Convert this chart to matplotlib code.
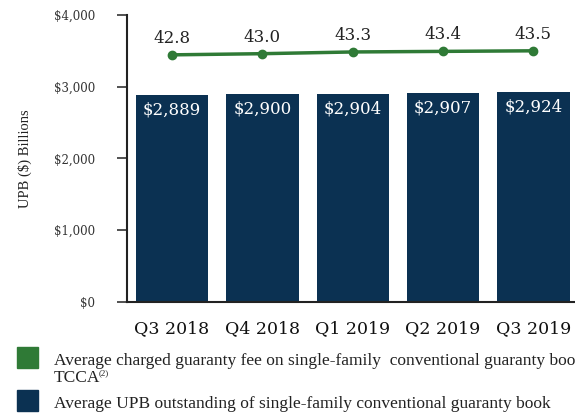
import numpy as np
import matplotlib.pyplot as plt
from matplotlib.patches import Rectangle

# quarterly single-family guaranty book
quarters = ['Q3 2018', 'Q4 2018', 'Q1 2019', 'Q2 2019', 'Q3 2019']
upb = [2889, 2900, 2904, 2907, 2924]          # $ billions
gfee = [42.8, 43.0, 43.3, 43.4, 43.5]         # bps

navy = '#0b3152'
green = '#2f7a36'
serif = 'DejaVu Serif'
times = 'Liberation Serif'

fig = plt.figure(figsize=(5.75, 4.17), dpi=100)
ax = fig.add_axes([127/575, 115/417, 1 - 127/575, 287/417])

x = np.arange(len(quarters))
bars = ax.bar(x, upb, width=0.8, color=navy, zorder=2)
for xi, v in zip(x, upb):
    ax.text(xi, v - 90, f'${v:,}', ha='center', va='top', color='white',
            fontsize=12, family=serif, zorder=3)

ax.set_xlim(-0.498, 4.46)
ax.set_ylim(0, 4000)
ax.set_yticks([0, 1000, 2000, 3000, 4000])
ax.set_yticklabels(['$0', '$1,000', '$2,000', '$3,000', '$4,000'],
                   fontsize=8.5, family=serif, color='#333333')
ax.set_xticks(x)
ax.set_xticklabels(quarters, fontsize=12.5, family=serif, color='#111111')
ax.tick_params(axis='x', length=0, pad=13)
ax.tick_params(axis='y', length=7, width=1.2, color='#333333', pad=16)
for s in ['top', 'right']:
    ax.spines[s].set_visible(False)
for s in ['left', 'bottom']:
    ax.spines[s].set_linewidth(1.5)
    ax.spines[s].set_color('#222222')
ax.set_ylabel('UPB ($) Billions', fontsize=10.5, family=times,
              color='#222222', labelpad=16)

# guaranty fee line on a hidden secondary scale
ax2 = ax.twinx()
ax2.plot(x, gfee, color=green, lw=2.5, marker='o', ms=6, zorder=4)
for xi, v in zip(x, gfee):
    ax2.text(xi, v + 1.4, f'{v:.1f}', ha='center', va='bottom',
             fontsize=12, family=serif, color='#222222')
ax2.set_ylim(0, 49.7)
ax2.axis('off')

# legend
fig.patches.append(Rectangle((17/575, 1 - 368/417), 21/575, 21/417,
                             transform=fig.transFigure, color=green))
fig.patches.append(Rectangle((17/575, 1 - 411/417), 21/575, 21/417,
                             transform=fig.transFigure, color=navy))
fig.text(54/575, 1 - 361/417,
         'Average charged guaranty fee on single-family  conventional guaranty book',
         fontsize=12.5, family=times, va='center', color='#222222')
fig.text(54/575, 1 - 378/417, 'TCCA', fontsize=12.5, family=times,
         va='center', color='#222222')
fig.text(99/575, 1 - 373/417, '(2)', fontsize=6.5, family=times,
         va='center', color='#222222')
fig.text(54/575, 1 - 404/417,
         'Average UPB outstanding of single-family conventional guaranty book',
         fontsize=12.5, family=times, va='center', color='#222222')

fig.savefig('out.png', dpi=100)
